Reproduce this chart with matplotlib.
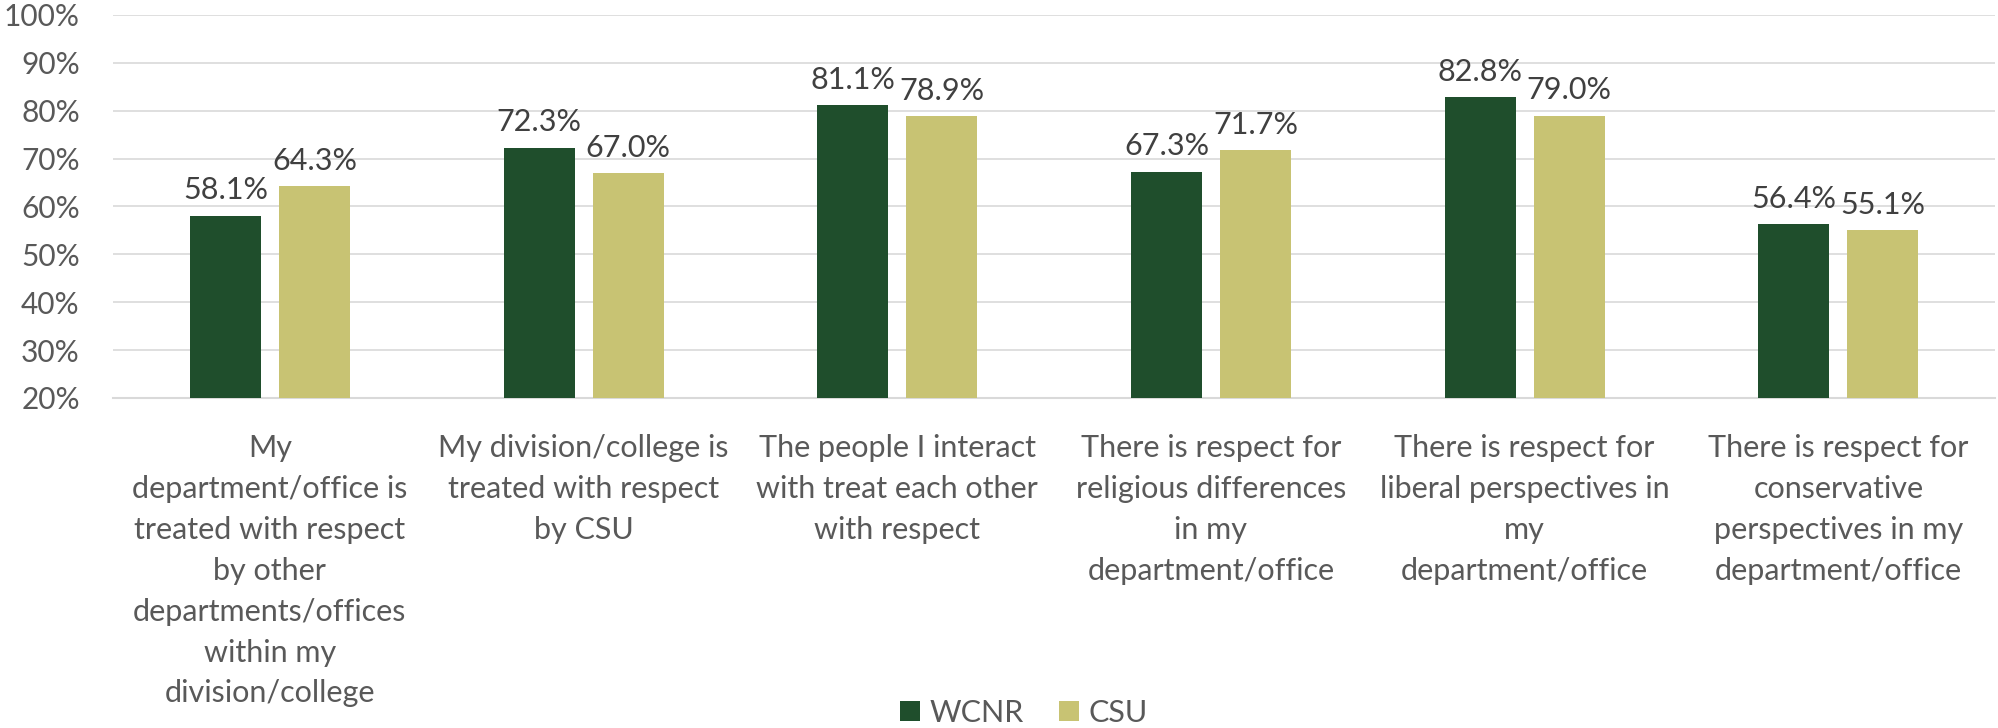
import matplotlib
matplotlib.use("Agg")
import matplotlib.pyplot as plt
import numpy as np

plt.rcParams['font.family'] = ['Lato', 'DejaVu Sans']

categories = [
    "My\ndepartment/office is\ntreated with respect\nby other\ndepartments/offices\nwithin my\ndivision/college",
    "My division/college is\ntreated with respect\nby CSU",
    "The people I interact\nwith treat each other\nwith respect",
    "There is respect for\nreligious differences\nin my\ndepartment/office",
    "There is respect for\nliberal perspectives in\nmy\ndepartment/office",
    "There is respect for\nconservative\nperspectives in my\ndepartment/office",
]
wcnr = [58.1, 72.3, 81.1, 67.3, 82.8, 56.4]
csu = [64.3, 67.0, 78.9, 71.7, 79.0, 55.1]
series_names = ["WCNR", "CSU"]

green = "#1F4E2C"
khaki = "#C8C373"
txt = "#595959"
grid = "#D9D9D9"

fig = plt.figure(figsize=(19.98, 7.28), dpi=100)
ax = fig.add_axes([0.0566, 0.4533, 0.942, 0.5261])

x = np.arange(len(categories))
w = 0.226
off = 0.142
b1 = ax.bar(x - off, wcnr, w, color=green, label=series_names[0], zorder=3)
b2 = ax.bar(x + off, csu, w, color=khaki, label=series_names[1], zorder=3)

# value labels above each bar
for bars, vals in ((b1, wcnr), (b2, csu)):
    for rect, v in zip(bars, vals):
        ax.annotate("%.1f%%" % v, (rect.get_x() + rect.get_width() / 2, v),
                    xytext=(0, 8), textcoords="offset points",
                    ha="center", va="bottom", fontsize=22, color="#404040")

ax.set_xlim(-0.5, len(categories) - 0.5)
ax.set_ylim(20, 100)
ax.set_yticks(range(20, 101, 10))
ax.set_yticklabels(["%d%%" % t for t in range(20, 101, 10)])
ax.yaxis.grid(True, color=grid, lw=1.2, zorder=0)
ax.set_axisbelow(True)

for s in ("top", "right", "left"):
    ax.spines[s].set_visible(False)
ax.spines["bottom"].set_color(grid)
ax.spines["bottom"].set_linewidth(1.5)

ax.set_xticks(x)
ax.set_xticklabels(categories, fontsize=22, color=txt, linespacing=1.56, va="top")
ax.tick_params(axis="x", length=0, pad=26)
ax.tick_params(axis="y", length=0, pad=24, labelsize=21.5, labelcolor=txt)

fig.legend(handles=[b1, b2], labels=series_names, loc="center",
           bbox_to_anchor=(0.5125, 0.021), ncol=2, frameon=False,
           fontsize=22, labelcolor=txt, handlelength=0.65, handleheight=0.65,
           handletextpad=0.33, columnspacing=1.15)

fig.savefig("out.png", dpi=100)
